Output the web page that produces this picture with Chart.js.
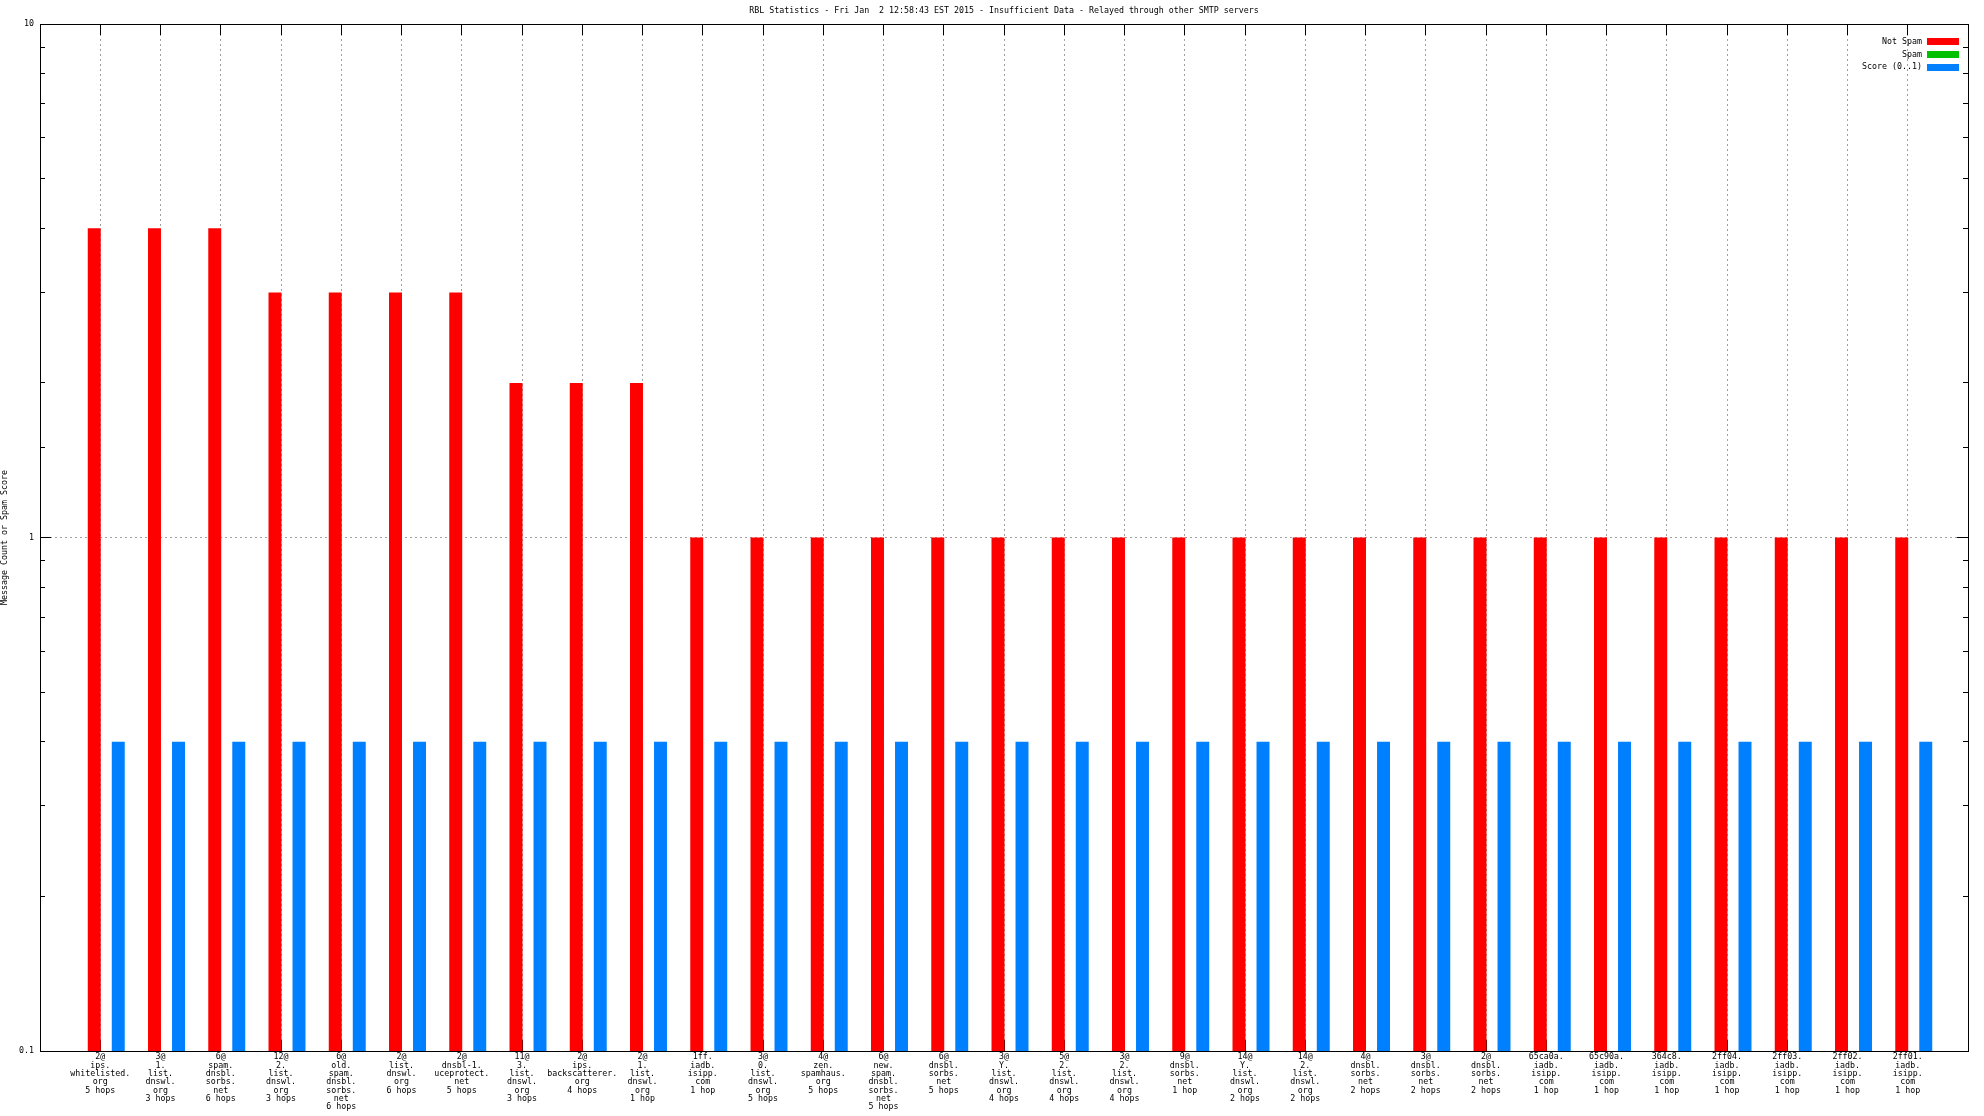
<!DOCTYPE html>
<html>
<head>
<meta charset="utf-8">
<script src="https://cdn.jsdelivr.net/npm/chart.js@4.4.1/dist/chart.umd.min.js"></script>
<style>
  html, body { margin: 0; padding: 0; background: #fff; }
  #wrap { width: 1984px; height: 1116px; }
</style>
</head>
<body>
<div id="wrap"><canvas id="c" width="1984" height="1116"></canvas></div>
<script>
/* gnuplot-style RBL statistics, log scale bars */
const TITLE = 'RBL Statistics - Fri Jan  2 12:58:43 EST 2015 - Insufficient Data - Relayed through other SMTP servers';
const Y_TITLE = 'Message Count or Spam Score';

const categories = [
  ['2@', 'ips.', 'whitelisted.', 'org', '5 hops'],
  ['3@', '1.', 'list.', 'dnswl.', 'org', '3 hops'],
  ['6@', 'spam.', 'dnsbl.', 'sorbs.', 'net', '6 hops'],
  ['12@', '2.', 'list.', 'dnswl.', 'org', '3 hops'],
  ['6@', 'old.', 'spam.', 'dnsbl.', 'sorbs.', 'net', '6 hops'],
  ['2@', 'list.', 'dnswl.', 'org', '6 hops'],
  ['2@', 'dnsbl-1.', 'uceprotect.', 'net', '5 hops'],
  ['11@', '3.', 'list.', 'dnswl.', 'org', '3 hops'],
  ['2@', 'ips.', 'backscatterer.', 'org', '4 hops'],
  ['2@', '1.', 'list.', 'dnswl.', 'org', '1 hop'],
  ['1ff.', 'iadb.', 'isipp.', 'com', '1 hop'],
  ['3@', '0.', 'list.', 'dnswl.', 'org', '5 hops'],
  ['4@', 'zen.', 'spamhaus.', 'org', '5 hops'],
  ['6@', 'new.', 'spam.', 'dnsbl.', 'sorbs.', 'net', '5 hops'],
  ['6@', 'dnsbl.', 'sorbs.', 'net', '5 hops'],
  ['3@', 'Y.', 'list.', 'dnswl.', 'org', '4 hops'],
  ['5@', '2.', 'list.', 'dnswl.', 'org', '4 hops'],
  ['3@', '2.', 'list.', 'dnswl.', 'org', '4 hops'],
  ['9@', 'dnsbl.', 'sorbs.', 'net', '1 hop'],
  ['14@', 'Y.', 'list.', 'dnswl.', 'org', '2 hops'],
  ['14@', '2.', 'list.', 'dnswl.', 'org', '2 hops'],
  ['4@', 'dnsbl.', 'sorbs.', 'net', '2 hops'],
  ['3@', 'dnsbl.', 'sorbs.', 'net', '2 hops'],
  ['2@', 'dnsbl.', 'sorbs.', 'net', '2 hops'],
  ['65ca0a.', 'iadb.', 'isipp.', 'com', '1 hop'],
  ['65c90a.', 'iadb.', 'isipp.', 'com', '1 hop'],
  ['364c8.', 'iadb.', 'isipp.', 'com', '1 hop'],
  ['2ff04.', 'iadb.', 'isipp.', 'com', '1 hop'],
  ['2ff03.', 'iadb.', 'isipp.', 'com', '1 hop'],
  ['2ff02.', 'iadb.', 'isipp.', 'com', '1 hop'],
  ['2ff01.', 'iadb.', 'isipp.', 'com', '1 hop']
];

const notSpam = [4, 4, 4, 3, 3, 3, 3, 2, 2, 2,
  1, 1, 1, 1, 1, 1, 1, 1, 1, 1, 1, 1, 1, 1, 1, 1, 1, 1, 1, 1, 1];
const spam = [0, 0, 0, 0, 0, 0, 0, 0, 0, 0,
  0, 0, 0, 0, 0, 0, 0, 0, 0, 0, 0, 0, 0, 0, 0, 0, 0, 0, 0, 0, 0];
const score = [0.4, 0.4, 0.4, 0.4, 0.4, 0.4, 0.4, 0.4, 0.4, 0.4,
  0.4, 0.4, 0.4, 0.4, 0.4, 0.4, 0.4, 0.4, 0.4, 0.4, 0.4,
  0.4, 0.4, 0.4, 0.4, 0.4, 0.4, 0.4, 0.4, 0.4, 0.4];
const yTickLabels = [0.1, 1, 10];

const RED = '#ff0000';
const GREEN = '#00c000';
const BLUE = '#0080ff';
const INK = '#000000';
const GRID = '#a0a0a0';
const FONT = "'DejaVu Sans Mono', monospace";
const FS = 8.3;
const MAJOR = 11;
const MINOR = 5;

// gnuplot x range is [0, n+1]: pad one empty slot at each end
const pad = arr => [null, ...arr, null];
const labels = ['', ...categories, ''];

function isDecade(v) {
  const l = Math.log10(v);
  return Math.abs(l - Math.round(l)) < 1e-6;
}
function align(p) { return Math.round(p - 0.5) + 0.5; }

const gnuplotFrame = {
  id: 'gnuplotFrame',
  beforeDatasetsDraw(chart) {
    const { ctx, chartArea: a, scales: { x, y } } = chart;
    ctx.save();
    ctx.strokeStyle = INK;
    ctx.lineWidth = 1;
    ctx.beginPath();
    for (let i = 1; i < x.ticks.length - 1; i++) {
      const px = align(x.getPixelForTick(i));
      ctx.moveTo(px, a.top); ctx.lineTo(px, a.top + MAJOR);
      ctx.moveTo(px, a.bottom); ctx.lineTo(px, a.bottom - MAJOR);
    }
    y.ticks.forEach(t => {
      const py = align(y.getPixelForValue(t.value));
      const len = isDecade(t.value) ? MAJOR : MINOR;
      ctx.moveTo(a.left, py); ctx.lineTo(a.left + len, py);
      ctx.moveTo(a.right, py); ctx.lineTo(a.right - len, py);
    });
    ctx.stroke();
    ctx.restore();
  },
  afterDatasetsDraw(chart) {
    const { ctx, chartArea: a } = chart;
    ctx.save();
    ctx.strokeStyle = INK;
    ctx.lineWidth = 1;
    ctx.strokeRect(align(a.left), align(a.top), Math.round(a.right - a.left), Math.round(a.bottom - a.top));
    ctx.restore();
  }
};

const gnuplotKey = {
  id: 'gnuplotKey',
  afterDraw(chart) {
    const { ctx, chartArea: a } = chart;
    const sets = chart.data.datasets.filter(d => !d.spacer);
    ctx.save();
    ctx.font = FS + 'px ' + FONT;
    ctx.textAlign = 'right';
    ctx.textBaseline = 'middle';
    sets.forEach((d, i) => {
      const cy = a.top + 17.7 + i * 12.8;
      ctx.fillStyle = INK;
      ctx.fillText(d.label, a.right - 46, cy);
      ctx.fillStyle = d.backgroundColor;
      ctx.fillRect(a.right - 41, Math.round(cy - 3.5), 32, 7);
    });
    ctx.restore();
  }
};

Chart.defaults.font.family = FONT;
Chart.defaults.font.size = FS;
Chart.defaults.color = INK;

new Chart(document.getElementById('c'), {
  type: 'bar',
  data: {
    labels,
    datasets: [
      // empty slot so the cluster sits right of the tick like gnuplot does
      { label: '', spacer: true, data: pad(categories.map(() => null)), backgroundColor: 'transparent' },
      { label: 'Not Spam', data: pad(notSpam), backgroundColor: RED },
      { label: 'Spam', data: pad(spam), backgroundColor: GREEN },
      { label: 'Score (0..1)', data: pad(score), backgroundColor: BLUE }
    ]
  },
  options: {
    responsive: false,
    animation: false,
    devicePixelRatio: 1,
    layout: { padding: { left: 0, right: 16, top: 0, bottom: 0 } },
    datasets: {
      bar: { categoryPercentage: 0.797, barPercentage: 1.08, borderWidth: 0 }
    },
    plugins: {
      legend: { display: false },
      tooltip: { enabled: false },
      title: {
        display: true,
        text: TITLE,
        fullSize: false,
        color: INK,
        font: { family: FONT, size: FS, weight: 'normal', lineHeight: '10px' },
        padding: { top: 6, bottom: 8 }
      }
    },
    scales: {
      x: {
        type: 'category',
        offset: false,
        grid: {
          offset: false,
          drawTicks: false,
          color: c => (c.index === 0 || c.index === labels.length - 1) ? 'transparent' : GRID,
          lineWidth: 1
        },
        border: { display: false, dash: [2, 3] },
        ticks: {
          autoSkip: false, maxRotation: 0, minRotation: 0, padding: 2,
          color: INK,
          font: { family: FONT, size: FS, lineHeight: '8.33px' }
        },
        afterFit(s) { s.height = 65; }
      },
      y: {
        type: 'logarithmic',
        min: 0.1,
        max: 10,
        grid: {
          drawTicks: false,
          color: c => (c.tick && c.tick.value === 1) ? GRID : 'transparent',
          lineWidth: 1
        },
        border: { display: false, dash: [2, 3] },
        ticks: {
          autoSkip: false, padding: 6, color: INK,
          font: { family: FONT, size: FS },
          callback: v => yTickLabels.some(t => Math.abs(t - v) < 1e-9) ? String(v) : ''
        },
        title: {
          display: true, text: Y_TITLE, color: INK,
          font: { family: FONT, size: FS, lineHeight: '9px' },
          padding: 0
        },
        afterFit(s) { s.width = 40; }
      }
    }
  },
  plugins: [gnuplotFrame, gnuplotKey]
});
</script>
</body>
</html>
